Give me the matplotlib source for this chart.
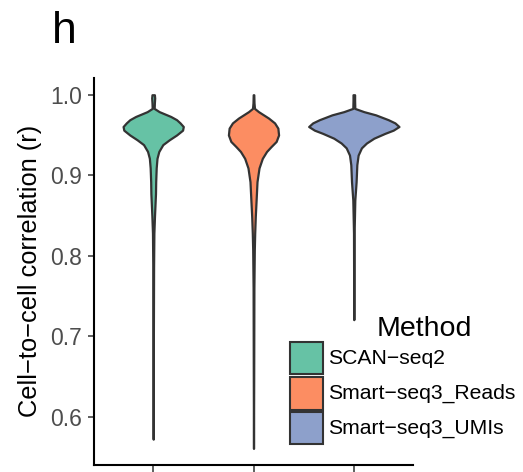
#!/usr/bin/env python3
"""Panel h: cell-to-cell correlation violins per method."""

import matplotlib

matplotlib.use("Agg")
import matplotlib.pyplot as plt  # noqa: E402
import numpy as np  # noqa: E402
from matplotlib.patches import Rectangle  # noqa: E402

plt.rcParams["font.family"] = ["Liberation Sans", "DejaVu Sans"]

methods = ["SCAN\u2212seq2", "Smart\u2212seq3_Reads", "Smart\u2212seq3_UMIs"]
colors = ["#66C2A5", "#FC8D62", "#8DA0CB"]

# density profiles (r value, relative density)
scan_r = [1.000, 0.996, 0.990, 0.983, 0.979, 0.973, 0.969, 0.965, 0.9605, 0.956, 0.950,
          0.944, 0.938, 0.9295, 0.921, 0.909, 0.892, 0.877, 0.849, 0.828, 0.786, 0.703, 0.572]
scan_d = [1.2, 1.5, 1.2, 1.0, 6.0, 17.5, 23.3, 26.8, 30.0, 29.3, 23.3,
          16.0, 9.6, 5.6, 3.8, 3.0, 2.5, 2.3, 1.3, 0.7, 0.4, 0.2, 0.0]

reads_r = [1.000, 0.990, 0.983, 0.979, 0.975, 0.971, 0.965, 0.9585, 0.950, 0.942, 0.9357,
           0.9295, 0.921, 0.909, 0.892, 0.869, 0.849, 0.828, 0.807, 0.760, 0.650, 0.5605]
reads_d = [0.3, 0.5, 1.0, 5.0, 10.0, 15.0, 21.0, 24.3, 25.0, 22.6, 17.6,
           13.0, 8.8, 5.5, 3.5, 2.6, 1.8, 1.2, 0.8, 0.4, 0.2, 0.0]

umis_r = [1.000, 0.993, 0.983, 0.979, 0.975, 0.969, 0.965, 0.9605, 0.956, 0.952, 0.946,
          0.940, 0.934, 0.925, 0.913, 0.892, 0.869, 0.828, 0.780, 0.7205]
umis_d = [0.8, 0.8, 1.0, 10.0, 21.8, 34.3, 41.0, 45.0, 39.3, 31.0, 20.0,
          12.6, 7.6, 4.3, 3.0, 2.3, 1.0, 0.3, 0.2, 0.0]

y_ticks = [0.6, 0.7, 0.8, 0.9, 1.0]

W, H = 523, 472
fig = plt.figure(figsize=(W / 100, H / 100), dpi=100)
ax = fig.add_axes([94 / W, 7 / H, (413 - 94) / W, (465 - 78) / H])

profiles = [(scan_r, scan_d), (reads_r, reads_d), (umis_r, umis_d)]
d_max = max(max(d) for _, d in profiles)
for i, ((r, d), color) in enumerate(zip(profiles, colors)):
    r = np.asarray(r)
    half = np.asarray(d) / d_max * 0.45
    ax.fill_betweenx(r, i - half, i + half, facecolor=color, edgecolor="#333333",
                     linewidth=1.6, joinstyle="round")

ax.set_xlim(-0.59, 2.59)
ax.set_ylim(0.5399, 1.0208)
ax.set_xticks([0, 1, 2])
ax.set_xticklabels([])
ax.set_yticks(y_ticks)
ax.set_yticklabels([f"{t:.1f}" for t in y_ticks], fontsize=16.5, color="#4D4D4D")
ax.tick_params(axis="y", length=4.5, width=1.1, color="#333333", pad=4)
ax.tick_params(axis="x", length=6, width=1.1, color="#333333")
for side in ("top", "right"):
    ax.spines[side].set_visible(False)
for side in ("left", "bottom"):
    ax.spines[side].set_linewidth(1.5)
    ax.spines[side].set_color("black")

fig.text(52 / W, 1 - 43 / H, "h", fontsize=32, va="baseline", ha="left")
fig.text(30 / W, 1 - 271 / H, "Cell\u2212to\u2212cell correlation (r)", fontsize=18.3,
         rotation=90, ha="center", va="center")

# legend drawn by hand inside the panel
fig.text(377 / W, 1 - 336 / H, "Method", fontsize=20.5, ha="left", va="baseline")
key_tops = [341.7, 377.0, 411.7]
for top, color, label in zip(key_tops, colors, methods):
    fig.add_artist(Rectangle((289.5 / W, 1 - (top + 32.5) / H), 33 / W, 32.5 / H,
                             transform=fig.transFigure, facecolor=color,
                             edgecolor="#333333", linewidth=1.5))
    fig.text(328.5 / W, 1 - (top + 16.5) / H, label, fontsize=15.2, ha="left", va="center")

fig.savefig("out.png", dpi=100)
